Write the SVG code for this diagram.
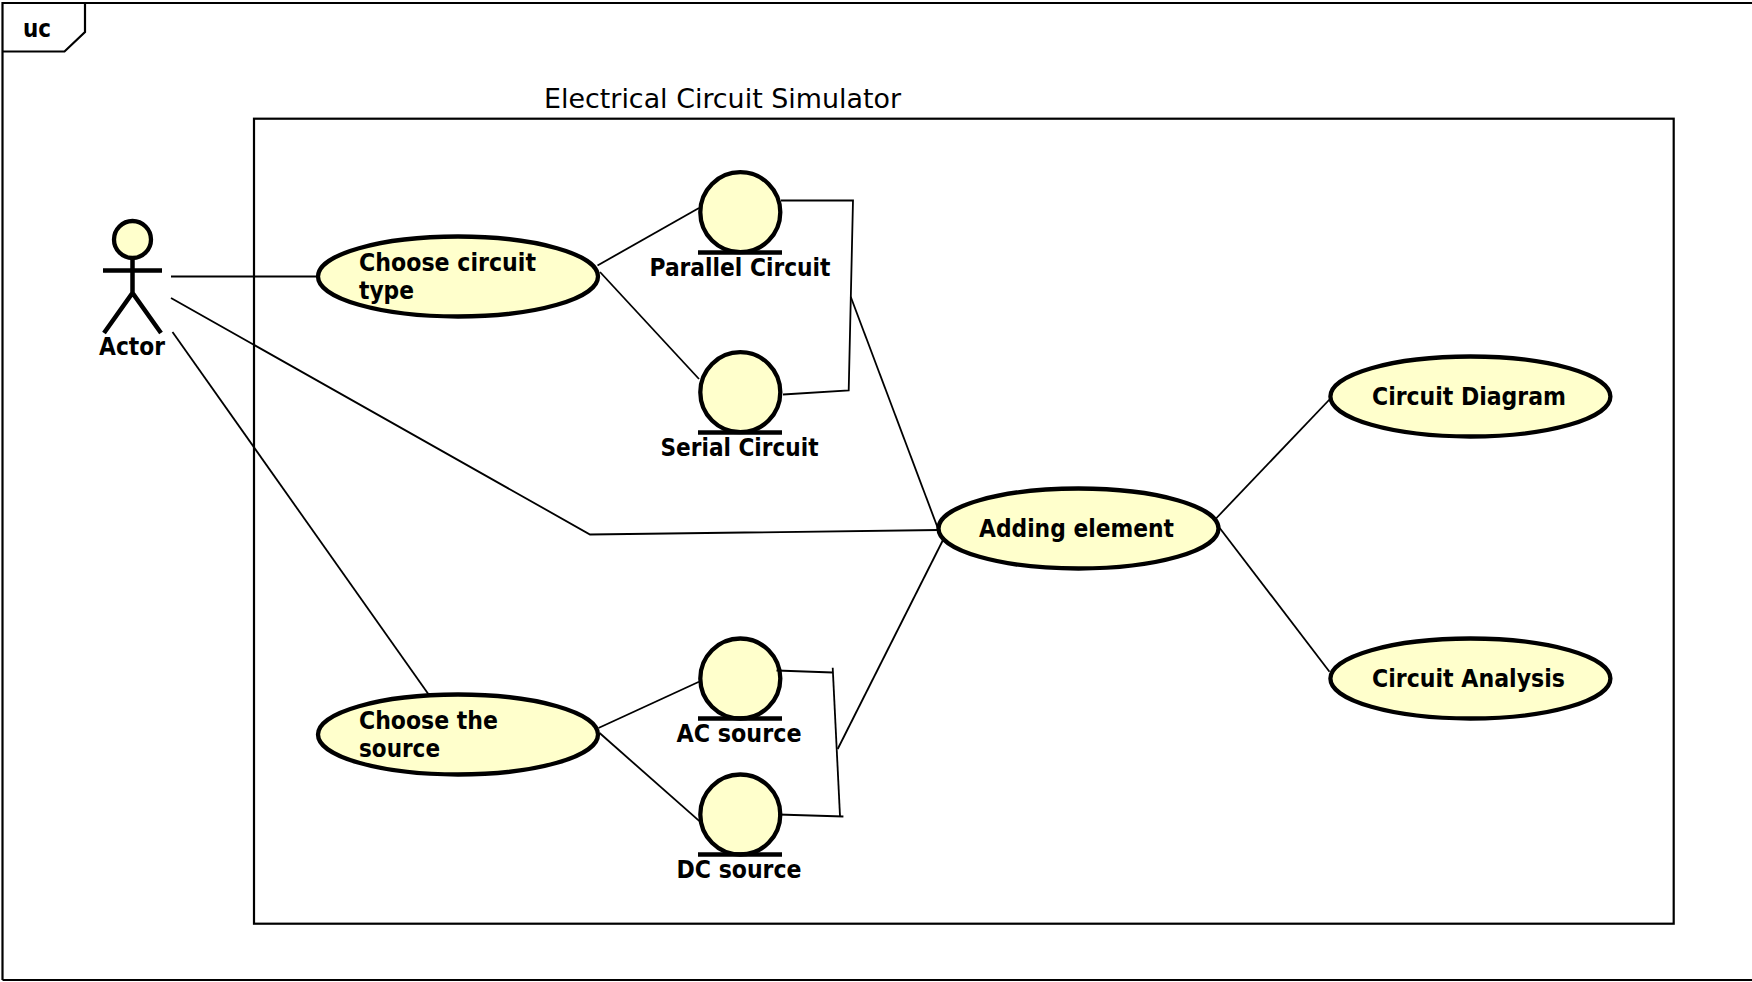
<svg xmlns="http://www.w3.org/2000/svg" width="1752" height="982" viewBox="0 0 1752 982">
<style>
.b{fill:none;stroke:#000;stroke-width:2.200}
.c{fill:none;stroke:#000;stroke-width:1.800}
.u{fill:#ffffcc;stroke:#000;stroke-width:4.300}
.bar{fill:none;stroke:#000;stroke-width:4.500}
text{font-family:"DejaVu Sans","Liberation Sans",sans-serif;font-weight:700;font-size:24px;fill:#000}
.t{font-weight:400;font-size:27px}
</style>
<rect width="1752" height="982" fill="#fff"/>
<g id="frame"><path class="b" d="M2.500 980V3H1752M2.500 980H1752M85 3V32L64.500 51.500H2.500"/><text x="23" y="37" textLength="28" lengthAdjust="spacingAndGlyphs">uc</text></g>
<g id="system"><rect class="b" x="254" y="118.700" width="1419.700" height="805"/><text class="t" x="544" y="108" textLength="357" lengthAdjust="spacingAndGlyphs">Electrical Circuit Simulator</text></g>
<g id="actor"><ellipse class="u" cx="132.500" cy="239.500" rx="18.500" ry="18.500"/><path class="bar" d="M132.500 258.500V293M103 270.500H162M104 333L132.500 293L161 333"/><text x="132" y="355" text-anchor="middle" textLength="66" lengthAdjust="spacingAndGlyphs">Actor</text></g>
<g id="choose-circuit-type"><ellipse class="u" cx="458" cy="276.500" rx="140" ry="40"/><text x="359" y="271" textLength="177" lengthAdjust="spacingAndGlyphs">Choose circuit</text><text x="359" y="299" textLength="55" lengthAdjust="spacingAndGlyphs">type</text></g>
<g id="parallel-circuit"><circle class="u" cx="740.300" cy="212.200" r="40"/><path class="bar" d="M698 252.500H782"/><text x="649.500" y="276" textLength="181" lengthAdjust="spacingAndGlyphs">Parallel Circuit</text></g>
<g id="serial-circuit"><circle class="u" cx="740.300" cy="392.200" r="40"/><path class="bar" d="M698 432.500H782"/><text x="660.500" y="456" textLength="158" lengthAdjust="spacingAndGlyphs">Serial Circuit</text></g>
<g id="choose-source"><ellipse class="u" cx="458" cy="734.500" rx="140" ry="40"/><text x="359" y="729" textLength="139" lengthAdjust="spacingAndGlyphs">Choose the</text><text x="359" y="757" textLength="81" lengthAdjust="spacingAndGlyphs">source</text></g>
<g id="ac-source"><circle class="u" cx="740.300" cy="678.500" r="40"/><path class="bar" d="M698 718.500H782"/><text x="676.500" y="742" textLength="125" lengthAdjust="spacingAndGlyphs">AC source</text></g>
<g id="dc-source"><circle class="u" cx="740.300" cy="814.500" r="40"/><path class="bar" d="M698 854.500H782"/><text x="676.500" y="878" textLength="125" lengthAdjust="spacingAndGlyphs">DC source</text></g>
<g id="adding-element"><ellipse class="u" cx="1078.500" cy="528.500" rx="140" ry="40"/><text x="979" y="537" textLength="195" lengthAdjust="spacingAndGlyphs">Adding element</text></g>
<g id="circuit-diagram"><ellipse class="u" cx="1470.400" cy="396.500" rx="140" ry="40"/><text x="1372" y="405" textLength="194" lengthAdjust="spacingAndGlyphs">Circuit Diagram</text></g>
<g id="circuit-analysis"><ellipse class="u" cx="1470.400" cy="678.500" rx="140" ry="40"/><text x="1372" y="687" textLength="193" lengthAdjust="spacingAndGlyphs">Circuit Analysis</text></g>
<g id="connectors">
<path class="c" d="M171 276.500H318"/>
<path class="c" d="M171 298L590 534.500L938.500 530"/>
<path class="c" d="M172.500 332L429 695"/>
<path class="c" d="M597.500 265.500L699 208"/>
<path class="c" d="M600 272L699 379"/>
<path class="c" d="M781 200.500H853L848.700 390.500L783 394.500"/>
<path class="c" d="M850.700 296.700L938.500 530"/>
<path class="c" d="M598.500 728L699 681.700"/>
<path class="c" d="M599.600 733L700 821.700"/>
<path class="c" d="M776.500 670.500L832.700 672.500"/>
<path class="c" d="M832.700 667.700L840 816"/>
<path class="c" d="M843.400 816.500L778 814.500"/>
<path class="c" d="M837.700 749L943 540"/>
<path class="c" d="M1216 518.500L1329.500 399.500"/>
<path class="c" d="M1219.700 528L1329.500 671.700"/>
</g>
</svg>
